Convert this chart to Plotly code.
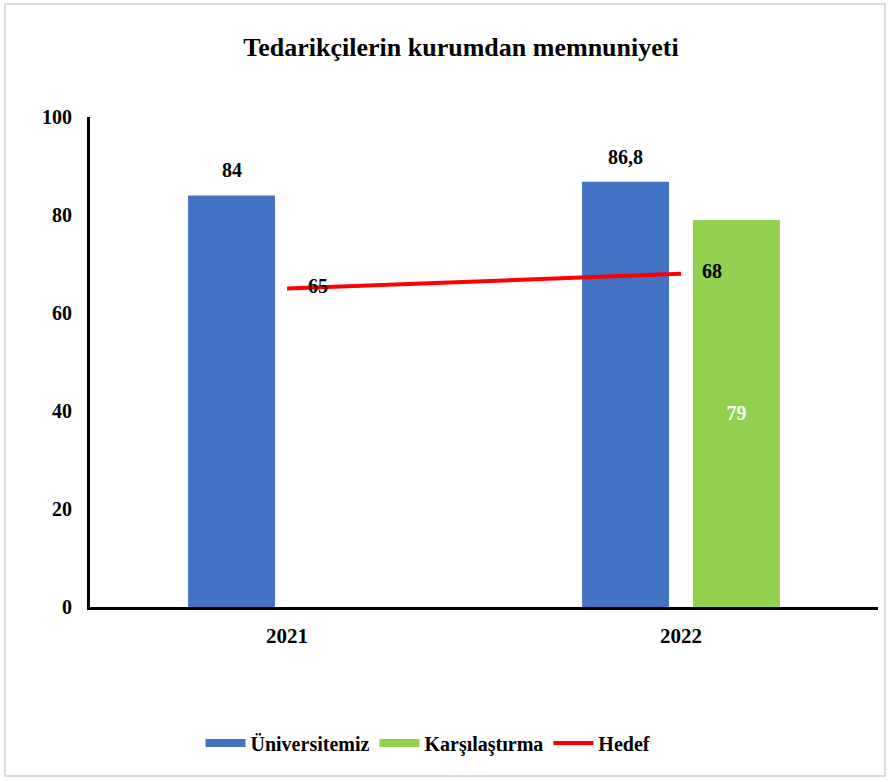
import plotly.graph_objects as go

categories = ["2021", "2022"]
universitemiz = [84, 86.8]
karsilastirma = [None, 79]
hedef = [65, 68]

def fmt(v):
    if v is None:
        return ""
    return f"{v:g}".replace(".", ",")

FONT = "Liberation Serif"
BLUE, GREEN, RED = "#4472C4", "#92D050", "#FF0000"

W, H = 890, 782
ML, MR, MT, MB = 90, 12, 117, 175
pw = W - ML - MR
ph = H - MT - MB
BARGAP, BARGROUPGAP = 0.437, 0.216
N_SERIES = 2
slot = (1 - BARGAP) / N_SERIES
offset_univ = -slot / 2  # centre of first bar in each group, in category units

def px_x(x):
    return (x - ML) / pw

def px_y(y):
    return (H - MB - y) / ph

def f(size, color="#000000"):
    return dict(family=FONT, size=size, color=color, weight="bold")

fig = go.Figure()
fig.add_trace(go.Bar(
    name="Üniversitemiz", x=categories, y=universitemiz,
    marker=dict(color=BLUE, line=dict(width=0)), showlegend=False,
))
fig.add_trace(go.Bar(
    name="Karşılaştırma", x=categories, y=karsilastirma,
    marker=dict(color=GREEN, line=dict(width=0)),
    text=[fmt(v) for v in karsilastirma], textposition="inside",
    insidetextanchor="middle", textfont=f(20, "#FFFFFF"), showlegend=False,
))
fig.add_trace(go.Scatter(
    name="Hedef", x=categories, y=hedef, mode="lines",
    line=dict(color=RED, width=4), showlegend=False,
))
# legend entries (wide swatches like the original)
for name, color, width in [("Üniversitemiz", BLUE, 8), ("Karşılaştırma", GREEN, 8), ("Hedef", RED, 4)]:
    fig.add_trace(go.Scatter(
        name=name, x=categories, y=[None] * len(categories), mode="lines",
        line=dict(color=color, width=width), showlegend=True, hoverinfo="skip",
    ))

annotations = []
# Üniversitemiz labels above the bars
for i, v in enumerate(universitemiz):
    annotations.append(dict(
        x=i + offset_univ, y=v, xref="x", yref="y", text=fmt(v), showarrow=False,
        xanchor="center", yanchor="bottom", yshift=12, font=f(20),
    ))
# Hedef value labels, right of each point
for i, v in enumerate(hedef):
    annotations.append(dict(
        x=i, y=v, xref="x", yref="y", text=fmt(v), showarrow=False,
        xanchor="center", yanchor="middle", xshift=31, yshift=3, font=f(20),
    ))

fig.update_layout(
    width=W, height=H,
    margin=dict(l=ML, r=MR, t=MT, b=MB),
    paper_bgcolor="white", plot_bgcolor="white",
    barmode="group", bargap=BARGAP, bargroupgap=BARGROUPGAP,
    title=dict(text="Tedarikçilerin kurumdan memnuniyeti",
               xref="container", x=461 / W, xanchor="center",
               y=1 - 47 / H, yanchor="middle", font=f(26)),
    font=f(20),
    legend=dict(orientation="h", x=px_x(428), xanchor="center",
                y=px_y(743), yanchor="middle",
                font=f(20), itemwidth=40, tracegroupgap=0),
    annotations=annotations,
    shapes=[dict(type="rect", xref="paper", yref="paper",
                 x0=px_x(5), x1=px_x(885), y0=px_y(776), y1=px_y(4),
                 line=dict(color="#D0D0D0", width=1.5), layer="below")],
)
fig.update_xaxes(
    type="category", categoryorder="array", categoryarray=categories,
    range=[-0.5, len(categories) - 0.5],
    showline=True, linecolor="#000000", linewidth=3,
    ticks="outside", ticklen=8, tickcolor="rgba(0,0,0,0)",
    tickfont=f(21), showgrid=False, zeroline=False,
)
fig.update_yaxes(
    range=[0, 100], tickvals=[0, 20, 40, 60, 80, 100],
    showline=True, linecolor="#000000", linewidth=3,
    ticks="outside", ticklen=11, tickcolor="rgba(0,0,0,0)",
    tickfont=f(20), showgrid=False, zeroline=False,
)

fig.write_html("out.html", config={"displayModeBar": False},
               post_script="document.body.style.margin='0';document.body.style.overflow='hidden';")
